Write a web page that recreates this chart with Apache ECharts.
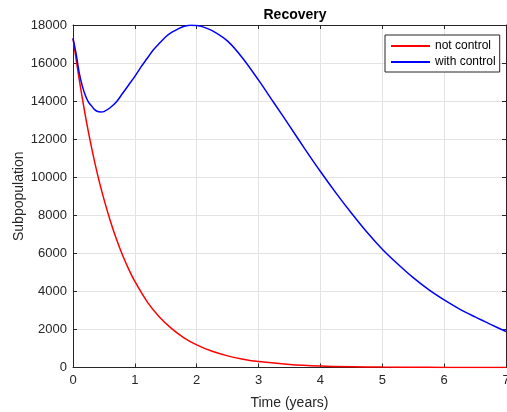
<!DOCTYPE html>
<html>
<head>
<meta charset="utf-8">
<script src="https://cdn.jsdelivr.net/npm/echarts@6/dist/echarts.min.js"></script>
<style>html,body{margin:0;padding:0;background:#fff}#c{width:507px;height:412px}</style>
</head>
<body>
<div id="c"></div>
<script>
var redT = [0,0.1,0.2,0.3,0.4,0.5,0.6,0.7,0.8,0.9,1.0,1.2,1.4,1.6,1.8,2.0,2.25,2.5,2.75,3.0,3.5,4.0,4.5,5.0,5.5,6.0,6.5,7.0];
var redV = [17300,15150,13230,11560,10100,8850,7740,6760,5910,5170,4520,3450,2640,2030,1550,1190,850,610,435,310,160,80,40,20,10,5,3,1];
var blueT = [0,0.05,0.1,0.15,0.2,0.25,0.3,0.35,0.4,0.45,0.5,0.6,0.7,0.8,0.9,1.0,1.1,1.2,1.3,1.4,1.5,1.6,1.7,1.8,1.9,2.0,2.1,2.25,2.5,2.75,3.0,3.25,3.5,3.75,4.0,4.25,4.5,4.75,5.0,5.25,5.5,5.75,6.0,6.25,6.5,6.75,7.0];
var blueV = [17300,16500,15500,14800,14300,13950,13750,13550,13450,13430,13450,13650,13950,14400,14850,15300,15800,16250,16700,17050,17380,17620,17800,17930,17990,17970,17900,17700,17150,16230,15100,13900,12700,11480,10300,9180,8120,7120,6220,5440,4720,4090,3550,3070,2660,2270,1890];
var seriesNames = ['not control','with control'];
var titleText = 'Recovery';
var xName = 'Time (years)';
var yName = 'Subpopulation';

function pairs(t, v){ return t.map(function(x,i){ return [x, v[i]]; }); }

var font = 'Arial, "Liberation Sans", Helvetica, sans-serif';
var axisCol = '#262626';
var gridCol = '#e3e3e3';
var plain = function(v){ return String(v); };

var chart = echarts.init(document.getElementById('c'));
chart.setOption({
  animation: false,
  title: {
    text: titleText, left: 290, top: 3, textAlign: 'center',
    textStyle: {fontFamily: font, fontSize: 14, fontWeight: 'bold', color: '#000'}
  },
  legend: {
    data: seriesNames, left: 385, top: 35, orient: 'vertical',
    itemWidth: 39, itemHeight: 14, itemGap: 4, padding: [5,4,4,5],
    backgroundColor: '#fff', borderColor: axisCol, borderWidth: 1,
    itemStyle: {opacity: 0},
    textStyle: {fontFamily: font, fontSize: 12, color: '#000'}
  },
  grid: {left: 73, right: 1, top: 25, bottom: 44.5, outerBoundsMode: 'none', containLabel: false},
  xAxis: [{
    type: 'value', min: 0, max: 7, interval: 1,
    name: xName, nameLocation: 'middle', nameGap: 29, nameMoveOverlap: false,
    nameTextStyle: {fontFamily: font, fontSize: 14, color: axisCol},
    axisLine: {show: true, onZero: false, lineStyle: {color: axisCol, width: 1}},
    axisTick: {show: true, inside: true, length: 4, lineStyle: {color: axisCol}},
    axisLabel: {fontFamily: font, fontSize: 13, color: axisCol, margin: 6, formatter: plain},
    splitLine: {show: true, lineStyle: {color: gridCol, width: 1}}
  },{
    type: 'value', min: 0, max: 7, interval: 1, position: 'top',
    axisLine: {show: true, onZero: false, lineStyle: {color: axisCol, width: 1}},
    axisTick: {show: true, inside: true, length: 4, lineStyle: {color: axisCol}},
    axisLabel: {show: false}, splitLine: {show: false}
  }],
  yAxis: [{
    type: 'value', min: 0, max: 18000, interval: 2000,
    name: yName, nameLocation: 'middle', nameGap: 47, nameMoveOverlap: false,
    nameTextStyle: {fontFamily: font, fontSize: 14, color: axisCol},
    axisLine: {show: true, onZero: false, lineStyle: {color: axisCol, width: 1}},
    axisTick: {show: true, inside: true, length: 4, lineStyle: {color: axisCol}},
    axisLabel: {fontFamily: font, fontSize: 13, color: axisCol, margin: 6, formatter: plain},
    splitLine: {show: true, lineStyle: {color: gridCol, width: 1}}
  },{
    type: 'value', min: 0, max: 18000, interval: 2000, position: 'right',
    axisLine: {show: true, onZero: false, lineStyle: {color: axisCol, width: 1}},
    axisTick: {show: true, inside: true, length: 4, lineStyle: {color: axisCol}},
    axisLabel: {show: false}, splitLine: {show: false}
  }],
  series: [{
    name: seriesNames[0], type: 'line', data: pairs(redT, redV),
    symbol: 'none', smooth: 0.3, color: '#ff0000',
    lineStyle: {color: '#ff0000', width: 1.5}
  },{
    name: seriesNames[1], type: 'line', data: pairs(blueT, blueV),
    symbol: 'none', smooth: 0.3, color: '#0000ff',
    lineStyle: {color: '#0000ff', width: 1.5}
  }]
});
</script>
</body>
</html>
